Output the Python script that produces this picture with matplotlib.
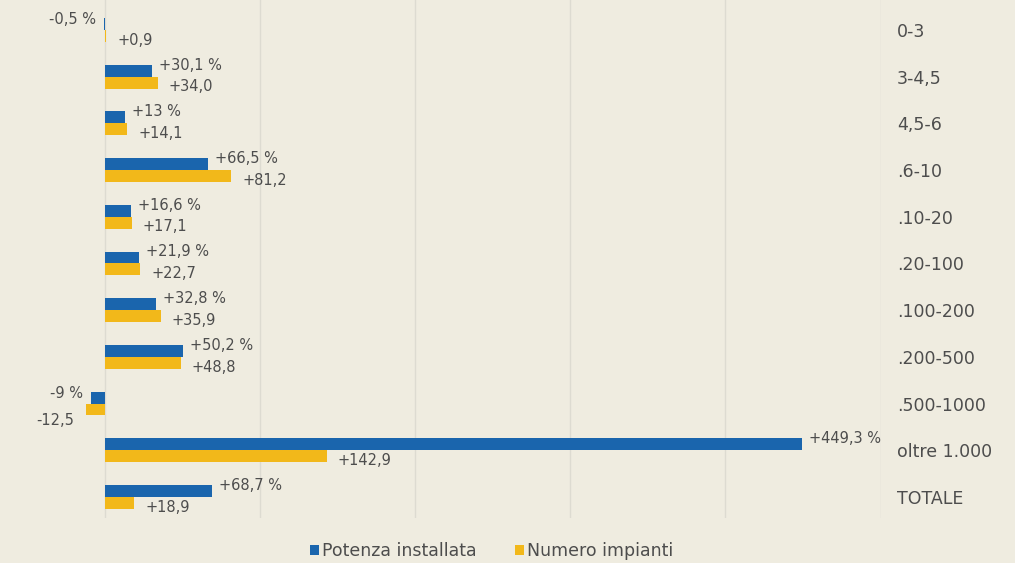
import matplotlib
matplotlib.use("Agg")
import matplotlib.pyplot as plt
from matplotlib.patches import Rectangle

# Classi di potenza (kW) e variazioni percentuali
categorie = ["0-3", "3-4,5", "4,5-6", ".6-10", ".10-20", ".20-100", ".100-200",
             ".200-500", ".500-1000", "oltre 1.000", "TOTALE"]
potenza = [-0.5, 30.1, 13.0, 66.5, 16.6, 21.9, 32.8, 50.2, -9.0, 449.3, 68.7]
impianti = [0.9, 34.0, 14.1, 81.2, 17.1, 22.7, 35.9, 48.8, -12.5, 142.9, 18.9]
etichette_potenza = ["-0,5 %", "+30,1 %", "+13 %", "+66,5 %", "+16,6 %", "+21,9 %",
                     "+32,8 %", "+50,2 %", "-9 %", "+449,3 %", "+68,7 %"]
etichette_impianti = ["+0,9", "+34,0", "+14,1", "+81,2", "+17,1", "+22,7",
                      "+35,9", "+48,8", "-12,5", "+142,9", "+18,9"]
serie = ["Potenza installata", "Numero impianti"]

BLU = "#1a65ad"
GIALLO = "#f2b81a"
SFONDO = "#efece0"
TESTO = "#4d4d4d"
GRIGLIA = "#dddbd1"

plt.rcParams["font.family"] = ["DejaVu Sans"]

W, H = 1027, 563
fig = plt.figure(figsize=(W / 100, H / 100), dpi=100)
fig.patch.set_facecolor(SFONDO)
# banda bianca sul bordo destro
fig.patches.append(Rectangle((1015 / W, 0), 12 / W, 1, transform=fig.transFigure,
                             facecolor="white", edgecolor="none", zorder=1))

left_px, right_px = 30, 880.5
top_px, bottom_px = 0, 518
ax = fig.add_axes([left_px / W, 1 - bottom_px / H, (right_px - left_px) / W,
                   (bottom_px - top_px) / H])
ax.set_facecolor(SFONDO)

n = len(categorie)
y = list(range(n))
h = 0.255
y_blu = [v - h / 2 for v in y]
y_gia = [v + h / 2 for v in y]

ax.barh(y_blu, potenza, height=h, color=BLU, zorder=3, label=serie[0])
ax.barh(y_gia, impianti, height=h, color=GIALLO, zorder=3, label=serie[1])

ax.set_xlim(-48.4, 500)
ax.set_ylim(10.45, -0.642)
ax.set_xticks([0, 100, 200, 300, 400, 500])
ax.xaxis.grid(True, color=GRIGLIA, linewidth=1.0, zorder=0)
ax.tick_params(axis="x", length=0, labelbottom=False)
for s in ax.spines.values():
    s.set_visible(False)

ax.yaxis.tick_right()
ax.set_yticks(y)
ax.set_yticklabels(categorie)
ax.tick_params(axis="y", length=0, pad=12, labelsize=12.5, labelcolor=TESTO)

fs = 10.5
for yi, v, t in zip(y_blu, potenza, etichette_potenza):
    if v >= 0:
        ax.annotate(t, (v, yi), xytext=(5, 4), textcoords="offset points",
                    ha="left", va="center", fontsize=fs, color=TESTO)
    else:
        ax.annotate(t, (v, yi), xytext=(-6, 3), textcoords="offset points",
                    ha="right", va="center", fontsize=fs, color=TESTO)
for yi, v, t in zip(y_gia, impianti, etichette_impianti):
    if v >= 0:
        ax.annotate(t, (v, yi), xytext=(8, -3), textcoords="offset points",
                    ha="left", va="center", fontsize=fs, color=TESTO)
    else:
        ax.annotate(t, (v, yi), xytext=(-8, -8), textcoords="offset points",
                    ha="right", va="center", fontsize=fs, color=TESTO)

fig.legend(loc="center", bbox_to_anchor=(492 / W, 1 - 551 / H), ncol=2,
           frameon=False, fontsize=12.5, handlelength=0.5, handleheight=0.5,
           handletextpad=0.2, columnspacing=2.2, labelcolor=TESTO)

fig.savefig("out.png", dpi=100, facecolor=SFONDO)
